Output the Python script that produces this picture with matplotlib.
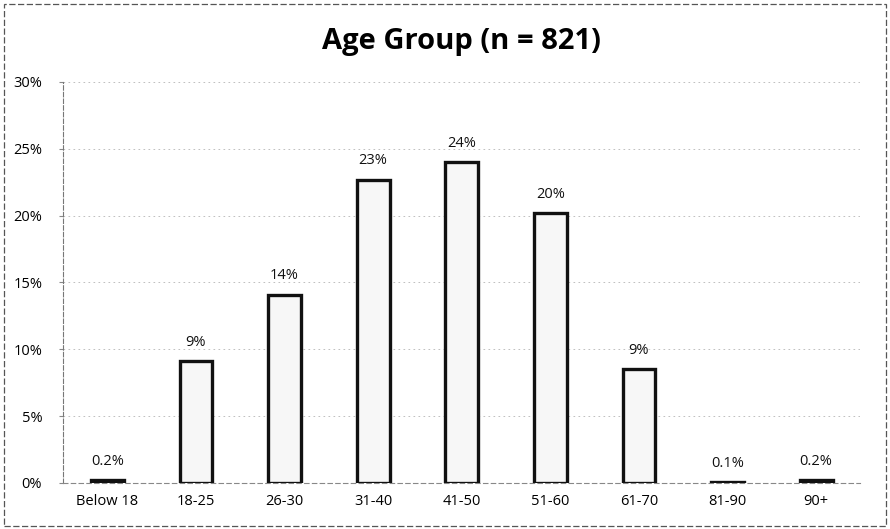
import matplotlib
matplotlib.use("Agg")
import matplotlib.pyplot as plt
from matplotlib.patches import Rectangle

categories = ["Below 18", "18-25", "26-30", "31-40", "41-50", "51-60", "61-70", "81-90", "90+"]
values = [0.2, 9.1, 14.1, 22.7, 24.0, 20.2, 8.5, 0.1, 0.2]
labels = ["0.2%", "9%", "14%", "23%", "24%", "20%", "9%", "0.1%", "0.2%"]
yticks = [0, 5, 10, 15, 20, 25, 30]

plt.rcParams['font.family'] = ['Open Sans', 'DejaVu Sans']

fig = plt.figure(figsize=(8.9, 5.29), dpi=100)
ax = fig.add_axes([0.0708, 0.087, 0.896, 0.758])

x = list(range(len(categories)))
bars = ax.bar(x, values, width=0.37, color='#f7f7f7', edgecolor='#111111', linewidth=2.4, zorder=3)

for xi, v, lab in zip(x, values, labels):
    ax.annotate(lab, (xi, v), xytext=(0, 8), textcoords='offset points',
                ha='center', va='bottom', fontsize=10.5, color='#111111')

ax.set_xlim(-0.5, len(categories) - 0.5)
ax.set_ylim(0, 30)
ax.set_yticks(yticks)
ax.set_yticklabels([f"{t}%" for t in yticks], fontsize=10.5)
ax.set_xticks(x)
ax.set_xticklabels(categories, fontsize=10.5)
ax.tick_params(axis='y', length=3, color='#888888', pad=12)
ax.tick_params(axis='x', length=0, pad=8)

ax.grid(axis='y', linestyle=(0, (2, 4)), color='#b5b5b5', linewidth=0.6, zorder=0)
for s in ['top', 'right']:
    ax.spines[s].set_visible(False)
ax.spines['left'].set_linestyle((0, (4, 2)))
ax.spines['left'].set_color('#777777')
ax.spines['left'].set_linewidth(0.8)
ax.spines['bottom'].set_linestyle((0, (4, 3)))
ax.spines['bottom'].set_color('#888888')
ax.spines['bottom'].set_linewidth(0.8)

ax.set_title("Age Group (n = 821)", fontsize=21, fontweight='bold', pad=24)

border = Rectangle((0.004, 0.006), 0.992, 0.986, transform=fig.transFigure,
                   fill=False, edgecolor='#555555', linewidth=0.9, linestyle=(0, (5, 2)))
fig.patches.append(border)

fig.savefig("out.png", dpi=100, facecolor='white')
